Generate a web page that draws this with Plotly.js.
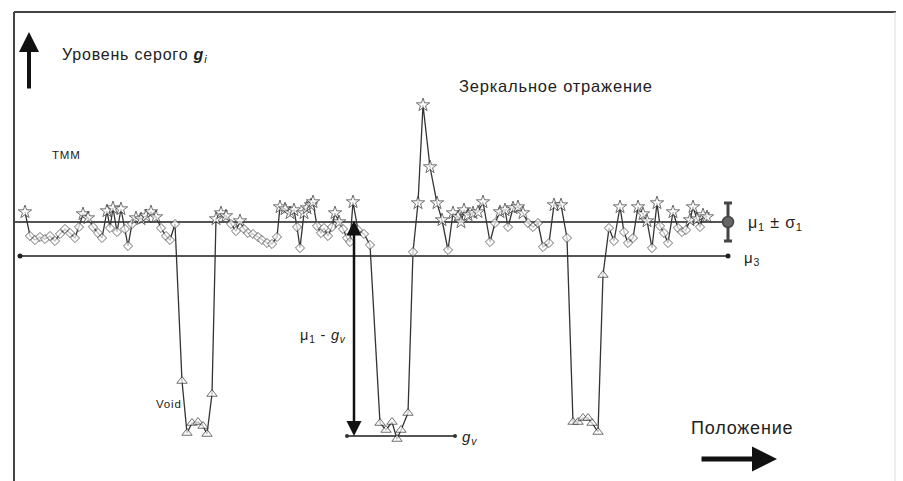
<!DOCTYPE html>
<html>
<head>
<meta charset="utf-8">
<script src="https://cdn.plot.ly/plotly-3.0.1.min.js"></script>
<style>
  html, body { margin: 0; padding: 0; background: #fff; }
  #chart { width: 903px; height: 481px; }
  .annotation-text { letter-spacing: 0.8px; }
</style>
</head>
<body>
<div id="chart"></div>
<script>
// Position along the scan line (arbitrary units)
const position = [
  25,30,35,40,45,50,55,60,65,70,75,79,83,88,93,98,102,107,110,113,117,121,125,128,132,136,141,146,151,156,161,166,170,175,
  182,187,192,198,203,207,212,
  216,221,226,231,236,240,244,248,253,258,262,267,272,277,280,285,290,294,297,300,304,307,311,313,317,321,324,328,332,335,339,343,347,350,353,358,364,370,
  380,386,392,397,401,408,
  413,418,423,430,437,442,448,453,458,461,464,468,473,478,483,490,495,500,505,508,513,518,523,528,533,538,543,549,554,561,567,
  573,578,583,588,592,598,603,
  609,614,620,624,628,633,638,643,647,652,657,660,664,668,673,678,682,686,690,693,697,700,703,707
];
// Grey level g_i at each position
const greyLevel = [
  248,224,220,223,221,224,219,226,231,227,222,233,246,242,233,227,222,249,232,252,228,251,231,214,236,242,241,244,248,243,232,224,220,236,
  79,27,37,38,34,26,66,
  241,247,244,236,229,239,231,227,226,223,220,217,216,223,253,251,247,250,233,212,247,252,255,258,234,227,232,224,233,247,238,231,222,218,258,230,226,215,
  37,30,38,21,30,47,
  208,257,355,293,257,240,210,247,243,238,250,245,247,248,258,218,237,248,250,233,252,253,247,237,233,237,213,217,255,255,222,
  38,38,42,42,37,28,185,
  232,219,253,228,217,222,253,246,239,212,257,234,227,217,248,232,228,230,240,253,241,233,245,243
];
// Reference levels
const mu1 = 238;     // mean grey level of the material
const sigma1 = 19;   // standard deviation
const mu3 = 204;     // threshold level
const gv = 24;       // void grey level

const labels = {
  yTitle: "Уровень серого <b><i>g</i></b><sub><i>i</i></sub>",
  xTitle: "Положение",
  specular: "Зеркальное отражение",
  tmm: "ТММ",
  voidLbl: "Void",
  mu1s1: "μ<sub>1</sub> ± σ<sub>1</sub>",
  mu3: "μ<sub>3</sub>",
  diff: "μ<sub>1</sub> - <i>g</i><sub><i>v</i></sub>",
  gv: "<i>g</i><sub><i>v</i></sub>"
};

const symbols = greyLevel.map(g => g < mu3 ? 'triangle-up' : (g >= mu1 ? 'star' : 'diamond'));
const sizes = greyLevel.map(g => g < mu3 ? 9 : (g >= mu1 ? 10 : 7));

const dark = '#333';
const lineGrey = '#555';
const FONT = 'Liberation Sans, Arial, sans-serif';

const traces = [
  { // mu3 end dots
    x: [20, 728], y: [mu3, mu3], mode: 'markers', type: 'scatter',
    marker: {size: 5, color: '#222'}, hoverinfo: 'skip'
  },
  { // gv end dots
    x: [347, 455], y: [gv, gv], mode: 'markers', type: 'scatter',
    marker: {size: 4, color: '#333'}, hoverinfo: 'skip'
  },
  {
    x: position, y: greyLevel, mode: 'lines+markers', type: 'scatter',
    line: {color: dark, width: 1.3},
    marker: {symbol: symbols, size: sizes, color: '#fff', line: {color: dark, width: 1}}
  },
  { // mu1 ± sigma1 marker
    x: [728], y: [mu1], mode: 'markers', type: 'scatter',
    marker: {symbol: 'circle', size: 11, color: '#666', line: {color: '#444', width: 1.5}},
    error_y: {type: 'data', array: [sigma1], symmetric: true, thickness: 3, width: 4, color: '#444'}
  }
];

const shapes = [
  // frame
  {type: 'line', x0: 14, x1: 896, y0: 448, y1: 448, line: {color: '#444', width: 2}},
  {type: 'line', x0: 14, x1: 14, y0: 448, y1: -21, line: {color: '#444', width: 2}},
  {type: 'line', x0: 895, x1: 895, y0: 448, y1: -21, line: {color: '#ddd', width: 1}},
  // mu1 and mu3 level lines
  {type: 'line', x0: 14, x1: 728, y0: mu1, y1: mu1, line: {color: lineGrey, width: 2}, layer: 'below'},
  {type: 'line', x0: 20, x1: 728, y0: mu3, y1: mu3, line: {color: lineGrey, width: 2}, layer: 'below'},
  // gv level line
  {type: 'line', x0: 347, x1: 455, y0: gv, y1: gv, line: {color: lineGrey, width: 2}, layer: 'below'}
];

const annotations = [
  // y arrow
  {x: 29, y: 428, ax: 29, ay: 370, xref: 'x', yref: 'y', axref: 'x', ayref: 'y',
   showarrow: true, arrowhead: 2, arrowsize: 1, arrowwidth: 4, arrowcolor: '#111', text: ''},
  // x arrow
  {x: 777, y: 1, ax: 700, ay: 1, xref: 'x', yref: 'y', axref: 'x', ayref: 'y',
   showarrow: true, arrowhead: 2, arrowsize: 1, arrowwidth: 5, arrowcolor: '#111', text: ''},
  // mu1 - gv double arrow
  {x: 354, y: gv, ax: 354, ay: mu1 + 3, xref: 'x', yref: 'y', axref: 'x', ayref: 'y',
   showarrow: true, arrowhead: 2, arrowsize: 1.2, arrowwidth: 2.5, arrowside: 'end+start',
   startarrowhead: 2, startarrowsize: 1.2, arrowcolor: '#111', text: ''},
  {x: 60, y: 405, text: labels.yTitle, showarrow: false, xanchor: 'left', yanchor: 'middle',
   font: {family: FONT, size: 16, color: '#222'}},
  {x: 457, y: 374, text: labels.specular, showarrow: false, xanchor: 'left', yanchor: 'middle',
   font: {family: FONT, size: 16.5, color: '#222'}},
  {x: 50, y: 305, text: labels.tmm, showarrow: false, xanchor: 'left', yanchor: 'middle',
   font: {family: FONT, size: 11.5, color: '#222'}},
  {x: 154, y: 56, text: labels.voidLbl, showarrow: false, xanchor: 'left', yanchor: 'middle',
   font: {family: FONT, size: 11.5, color: '#222'}},
  {x: 689, y: 32, text: labels.xTitle, showarrow: false, xanchor: 'left', yanchor: 'middle',
   font: {family: FONT, size: 18, color: '#222'}},
  {x: 746, y: 237, text: labels.mu1s1, showarrow: false, xanchor: 'left', yanchor: 'middle',
   font: {family: FONT, size: 16, color: '#222'}},
  {x: 742, y: 202, text: labels.mu3, showarrow: false, xanchor: 'left', yanchor: 'middle',
   font: {family: FONT, size: 15, color: '#222'}},
  {x: 298, y: 124, text: labels.diff, showarrow: false, xanchor: 'left', yanchor: 'middle',
   font: {family: FONT, size: 14.5, color: '#222'}},
  {x: 460, y: 23, text: labels.gv, showarrow: false, xanchor: 'left', yanchor: 'middle',
   font: {family: FONT, size: 15, color: '#222'}}
];

const layout = {
  width: 903, height: 481, autosize: false,
  margin: {l: 0, r: 0, t: 0, b: 0, pad: 0},
  paper_bgcolor: '#fff', plot_bgcolor: '#fff',
  showlegend: false,
  xaxis: {range: [0, 903], visible: false, fixedrange: true},
  yaxis: {range: [-21, 460], visible: false, fixedrange: true},
  shapes: shapes,
  annotations: annotations
};

Plotly.newPlot('chart', traces, layout, {staticPlot: true, displayModeBar: false});
</script>
</body>
</html>
